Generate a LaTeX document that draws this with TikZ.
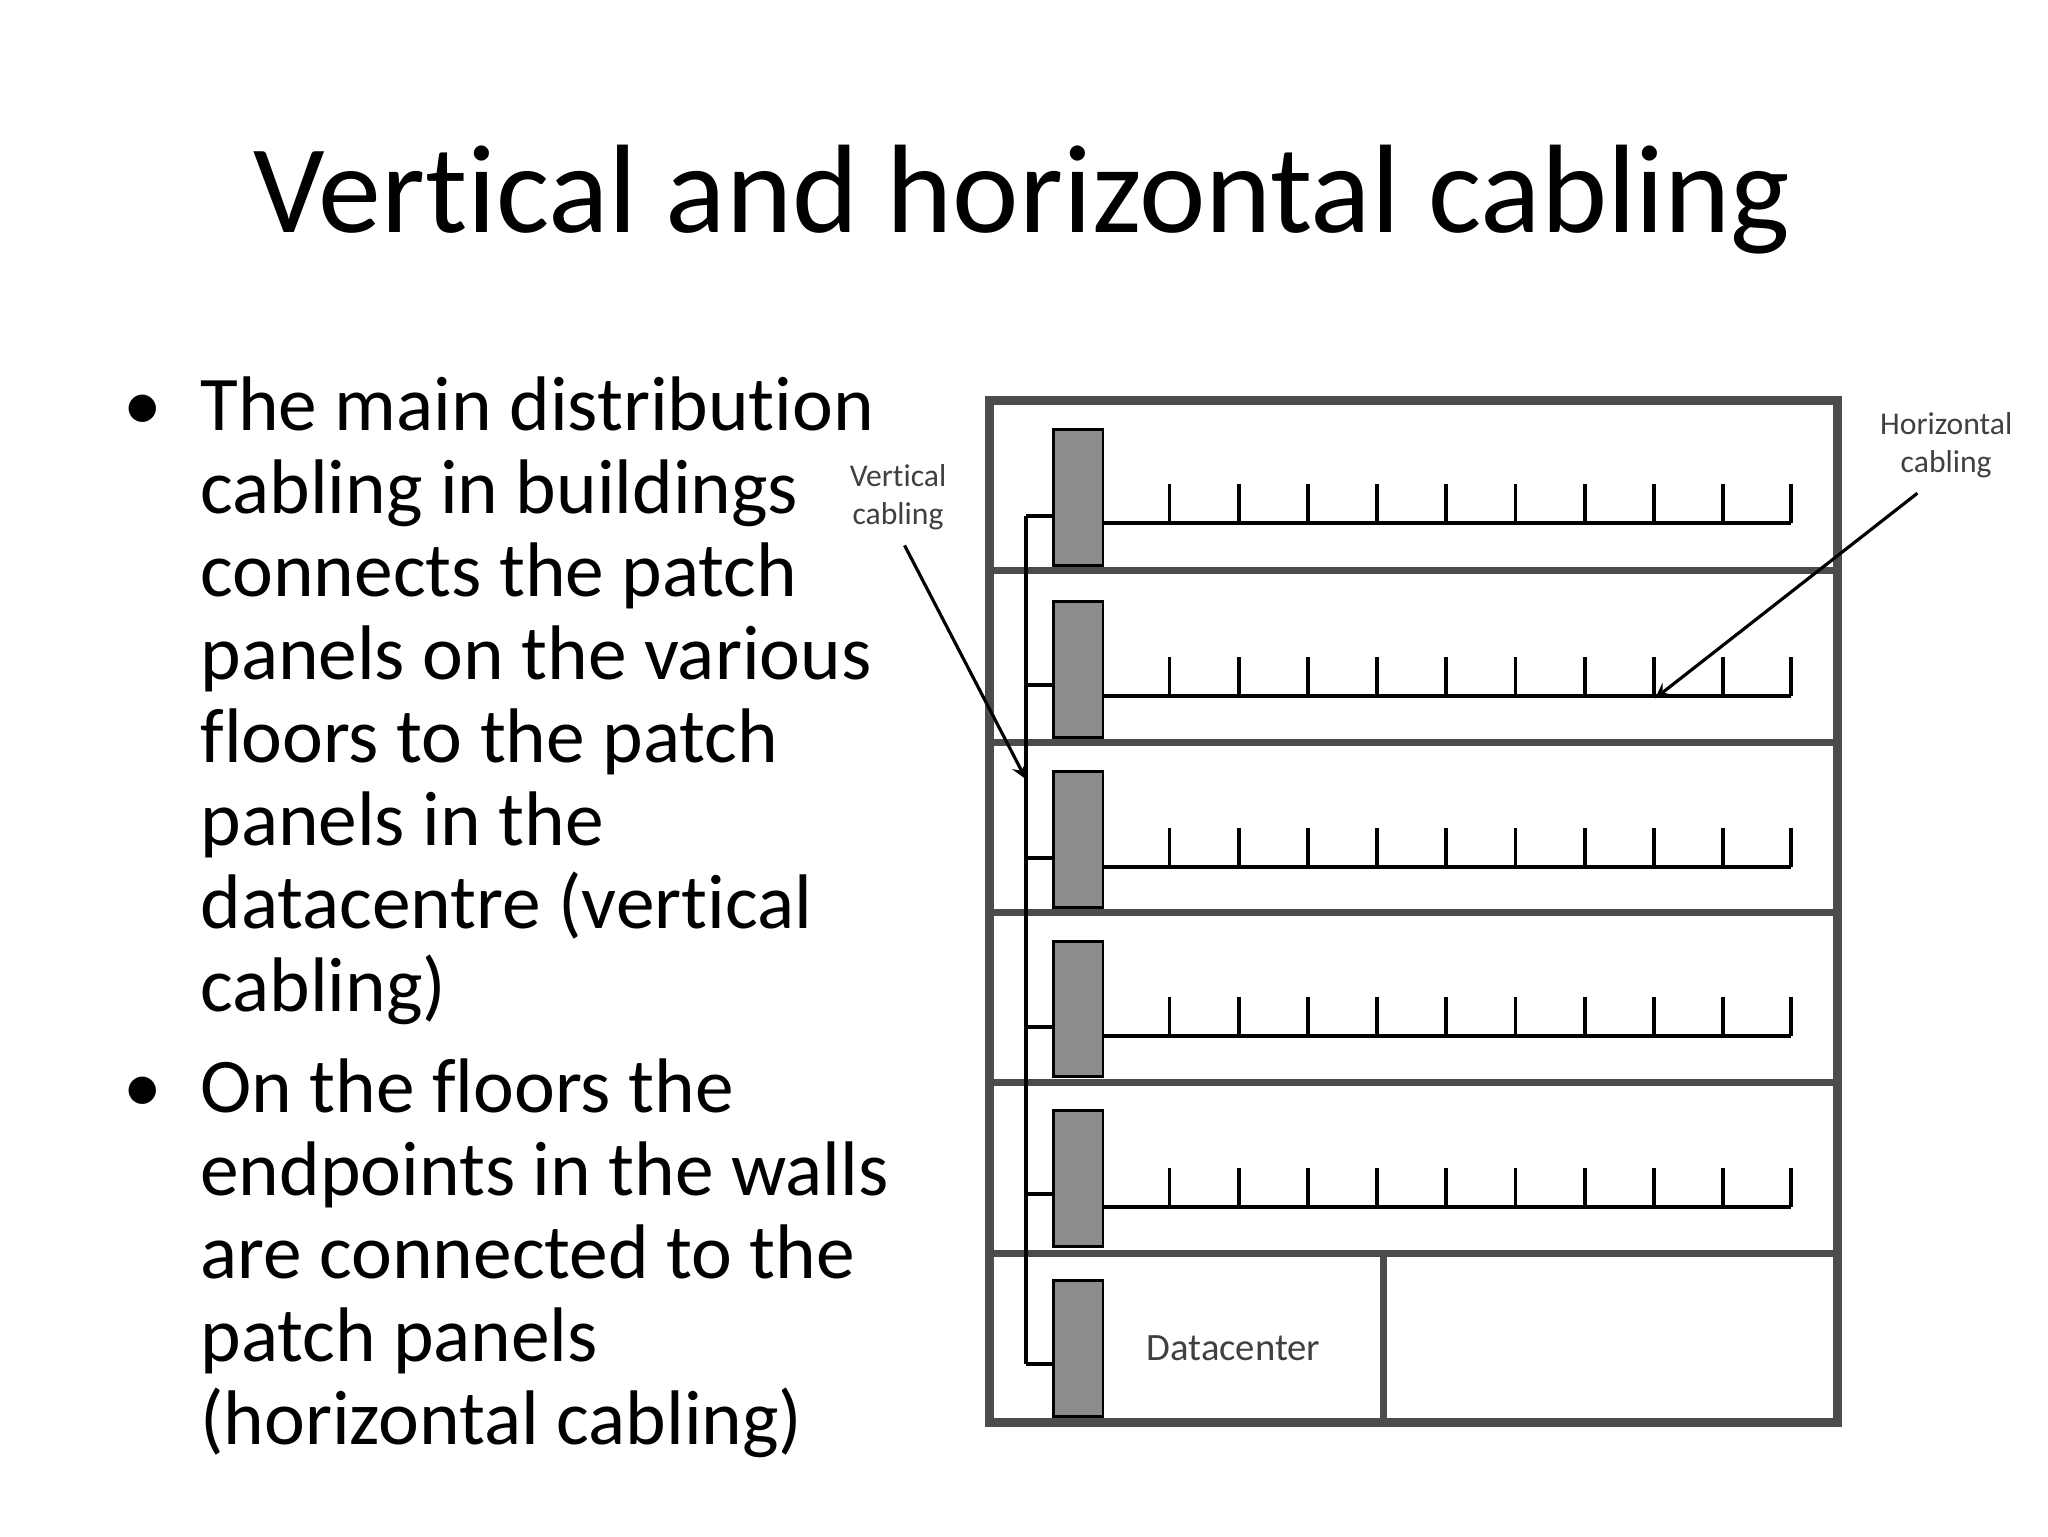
\documentclass[tikz,border=0pt]{standalone}
\usepackage{fontspec}
\setmainfont[Ligatures=NoCommon]{Carlito}
\begin{document}
\begin{tikzpicture}[x=0.013053cm,y=-0.013053cm,
  wall/.style={draw=black!70,line width=2.6pt},
  panel/.style={draw=black,fill=black!45,line width=0.8pt},
  cab/.style={draw=black,line width=1.1pt},
  body/.style={anchor=base west,inner sep=0pt,font=\fontsize{22}{24}\selectfont},
  lab/.style={font=\fontsize{9}{11}\selectfont,align=center,text=black!75}]
\useasboundingbox (0,0) rectangle (1569,1177);
\node[font=\fontsize{35.8}{40}\selectfont,anchor=base] (title) at (783,178) {Vertical and horizontal cabling};
% bullets
\foreach \t [count=\i] in {The main distribution,cabling in buildings,connects the patch,panels on the various,floors to the patch,panels in the,datacentre (vertical,cabling)}
  \node[body] (a\i) at (153,{330+63.6*(\i-1)}) {\t};
\node[body] (b1) at (94,330) {\textbullet};
\foreach \t [count=\i] in {On the floors the,endpoints in the walls,are connected to the,patch panels,(horizontal cabling)}
  \node[body] (c\i) at (153,{852+63.6*(\i-1)}) {\t};
\node[body] (b2) at (94,852) {\textbullet};
% building
\draw[wall] (758,307) rectangle (1408,1090);
\foreach \y in {437,569,699,829,960} \draw[wall,line width=2pt] (761,\y) -- (1405,\y);
\draw[wall,line width=2pt] (1060,960) -- (1060,1088);
% vertical cable
\draw[cab] (786,1045) -- (786,395);
\foreach \y/\p/\h in {329/395/401,461/525/533,591/657/664,721/787/794,851/915/925} {
  \draw[cab] (786,\p) -- (808,\p);
  \draw[cab] (845,\h) -- (1372,\h);
  \foreach \x in {896,949,1002,1055,1108,1161,1214,1267,1320,1372} \draw[cab] (\x,\h) -- (\x,\h-30);
  \draw[panel] (807,\y) rectangle (845,\y+104);
}
\draw[cab] (786,1045) -- (808,1045);
\draw[panel] (807,981) rectangle (845,1085);
\node[lab,font=\fontsize{11}{13}\selectfont] (dc) at (945,1033) {Datacenter};
\node[lab] (vl) at (688,381) {Vertical\\cabling};
\node[lab] (hl) at (1491,341) {Horizontal\\cabling};
\coordinate (vt) at (786,597);
\coordinate (ht) at (1268,535);
\draw[cab,line width=0.9pt,-stealth] (vl.south) ++(5,2) -- (vt);
\draw[cab,line width=0.9pt,-stealth] (hl.south) ++(-22,2) -- (ht);
\end{tikzpicture}
\end{document}
